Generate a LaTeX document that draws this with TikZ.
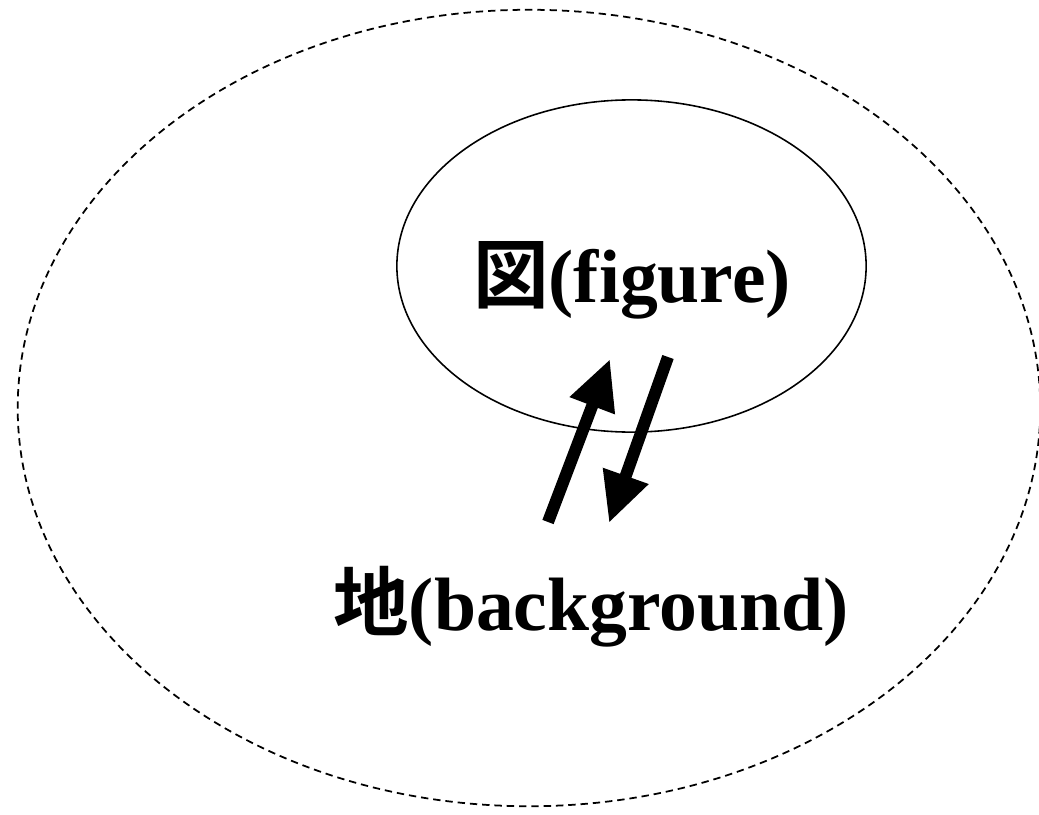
\documentclass[tikz,border=0pt]{standalone}
\usepackage{fontspec}
\setmainfont{Liberation Serif}
\newfontfamily\cjk{Noto Sans CJK JP}[BoldFont={Noto Sans CJK JP Bold}]
\usepackage{tikz}
\usetikzlibrary{arrows.meta,positioning,shapes.geometric}

\begin{document}
\begin{tikzpicture}[x=0.01cm,y=-0.01cm,
  lbl/.style={font=\fontsize{21.5pt}{25pt}\selectfont\bfseries},
  flow/.style={line width=0.12cm,-{Triangle[length=0.5cm 0 0,width=0.45cm 0 0]}}]
  \useasboundingbox (0,0) rectangle (1039,815);
  % areas
  \node[ellipse,draw,dash pattern=on 2.1pt off 1.4pt,line width=0.5pt,
        minimum width=10.22cm,minimum height=7.96cm,inner sep=0pt] (ground) at (529,408) {};
  \node[ellipse,draw,line width=0.45pt,
        minimum width=4.69cm,minimum height=3.32cm,inner sep=0pt] (fig) at (631.5,266) {};
  % labels
  \node[lbl] (figlabel) at (632,280) {{\cjk\bfseries 図}(figure)};
  \node[lbl] (groundlabel) at (591,607) {{\cjk\bfseries 地}(background)};
  % arrows
  \coordinate (upfrom) at (548,522);
  \coordinate (upto) at (610,359);
  \coordinate (downfrom) at (668,357);
  \coordinate (downto) at (609,523);
  \draw[flow] (upfrom) -- (upto);
  \draw[flow] (downfrom) -- (downto);
\end{tikzpicture}
\end{document}
